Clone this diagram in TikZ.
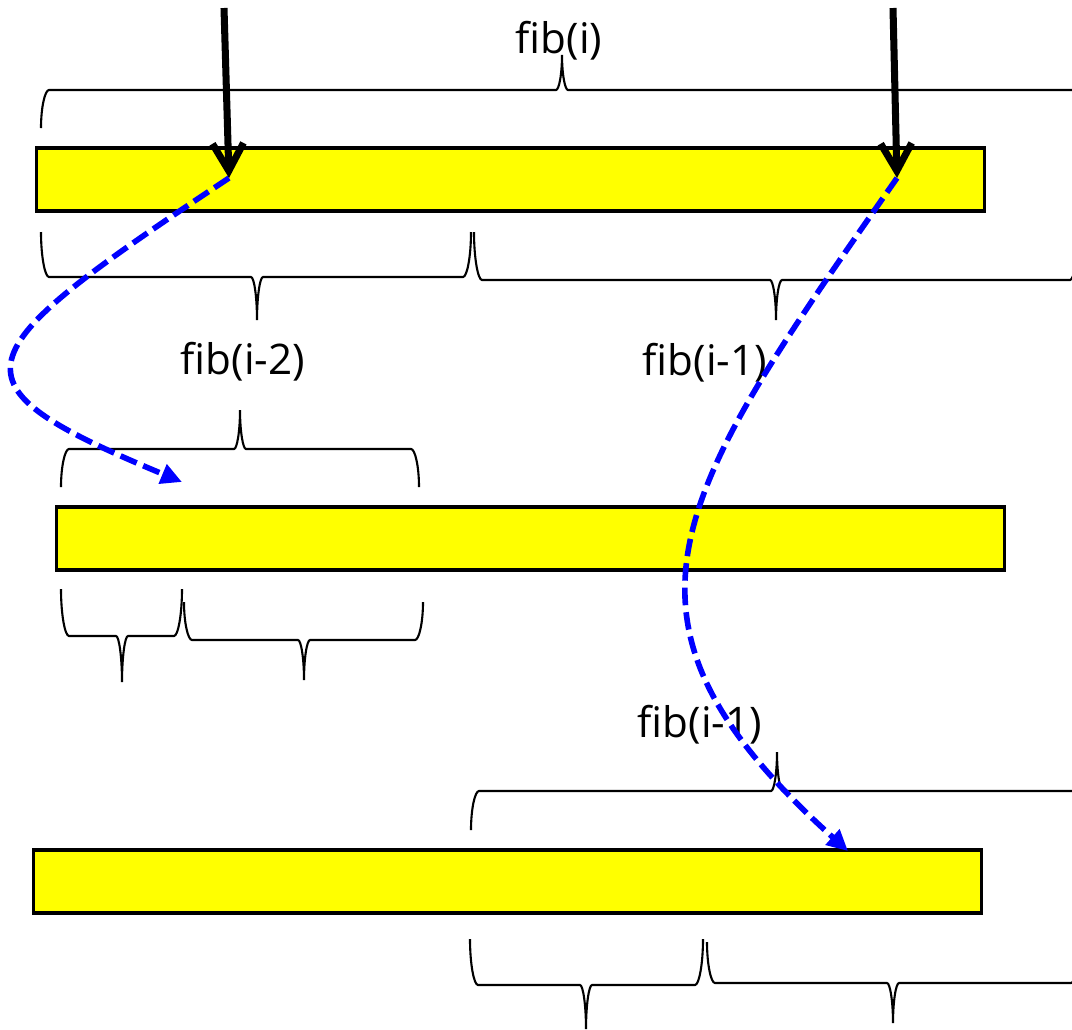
\documentclass[tikz,border=0pt]{standalone}
\usepackage{fontspec}
\setmainfont{Open Sans}
\usetikzlibrary{arrows.meta}
\definecolor{barfill}{RGB}{255,255,0}
\definecolor{jumpblue}{RGB}{0,0,255}

\begin{document}
\begin{tikzpicture}[x=0.02cm,y=-0.02cm]
    \tikzstyle{bar}=[rectangle, draw, fill=barfill, line width=1.8pt, minimum width=18.98cm, minimum height=1.26cm, inner sep=0pt]
    \tikzstyle{lbl}=[font=\fontsize{24}{28}\selectfont, inner sep=0pt]
    \tikzstyle{brace}=[line width=1.2pt]
    \tikzstyle{call}=[line width=4pt, -{Straight Barb[length=0.55cm,width=0.62cm]}]
    \tikzstyle{jump}=[jumpblue, line width=3.2pt, dash pattern=on 10pt off 4pt, -{Triangle[length=0.42cm,width=0.4cm]}]

    \useasboundingbox (0,0) rectangle (1072,1029);
    \clip (0,0) rectangle (1072,1029);

    \node[bar] (bar1) at (510.5,179.5) {};
    \node[bar] (bar2) at (530.5,538.5) {};
    \node[bar] (bar3) at (507.5,881.5) {};

    % x left / x right / x tip / y ends / y line / y tip
    \foreach \xa/\xb/\xt/\ye/\yl/\yt in {41/1083/562/128/90/55,
                                         41/471/257/232/277/320, 474/1078/776/232/280/320,
                                         61/419/240/487/449/410,
                                         61/182/122/589/636/682, 184/423/304/602/640/680,
                                         471/1083/777/830/791/752,
                                         470/703/586/939/985/1029, 707/1079/893/942/983/1023}
        \draw[brace] (\xa,\ye) .. controls (\xa,{\ye+0.55*(\yl-\ye)}) and (\xa+4,\yl) .. (\xa+8,\yl)
            -- (\xt-6,\yl) .. controls (\xt-3,\yl) and (\xt,{\yl+0.45*(\yt-\yl)}) .. (\xt,\yt)
            .. controls (\xt,{\yl+0.45*(\yt-\yl)}) and (\xt+3,\yl) .. (\xt+6,\yl)
            -- (\xb-8,\yl) .. controls (\xb-4,\yl) and (\xb,{\ye+0.55*(\yl-\ye)}) .. (\xb,\ye);

    \node[lbl] (fibI) at (559,41) {fib(i)};
    \node[lbl] (fibL) at (243,362) {fib(i-2)};
    \node[lbl] (fibR) at (705,363) {fib(i-1)};
    \node[lbl] (fibB) at (700,725) {fib(i-1)};

    \coordinate (srcA) at (224,8);
    \coordinate (hitA) at (229,178);
    \coordinate (srcB) at (893,8);
    \coordinate (hitB) at (897,178);
    \coordinate (landA) at (182,482);
    \coordinate (landB) at (848,851);

    \draw[call] (srcA) -- (hitA);
    \draw[call] (srcB) -- (hitB);

    \draw[jump] (hitA) .. controls (-42,358) and (-58,382) .. (landA);
    \draw[jump] (hitB) .. controls (673,498) and (588,617) .. (landB);
\end{tikzpicture}
\end{document}
